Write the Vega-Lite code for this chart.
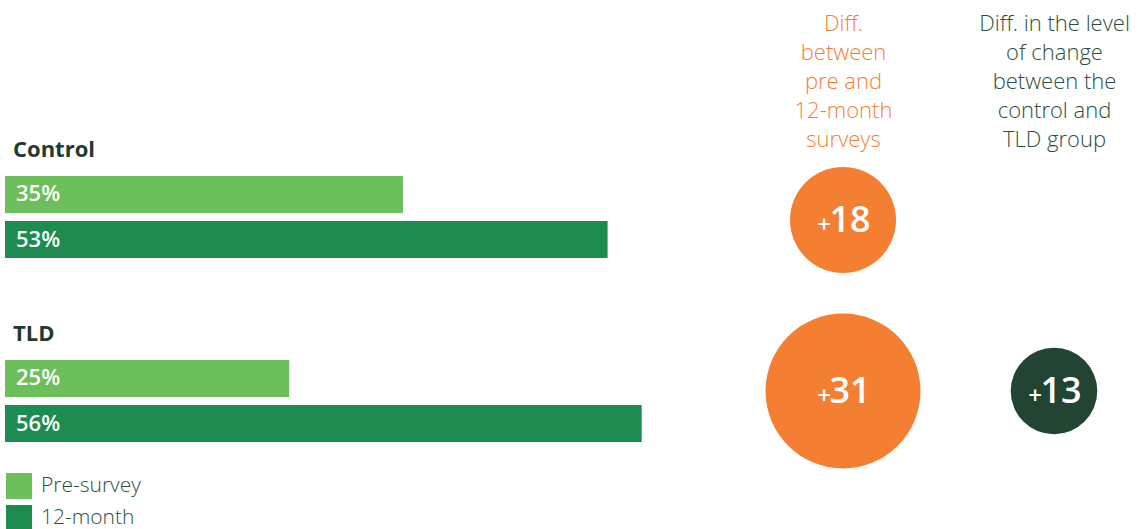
{
  "$schema": "https://vega.github.io/schema/vega-lite/v6.json",
  "width": 1139,
  "height": 529,
  "autosize": {"type": "none"},
  "padding": 0,
  "background": "#ffffff",
  "config": {"view": {"stroke": null}, "font": "Open Sans"},
  "datasets": {
    "bars": [
      {"group": "Control", "series": "Pre-survey", "share": 0.35},
      {"group": "Control", "series": "12-month", "share": 0.53},
      {"group": "TLD", "series": "Pre-survey", "share": 0.25},
      {"group": "TLD", "series": "12-month", "share": 0.56}
    ],
    "diffs": [
      {"measure": "Diff.|between|pre and|12-month|surveys", "group": "Control", "diff": 18},
      {"measure": "Diff.|between|pre and|12-month|surveys", "group": "TLD", "diff": 31},
      {"measure": "Diff. in the level|of change|between the|control and|TLD group", "group": "TLD", "diff": 13}
    ]
  },
  "resolve": {"scale": {"x": "independent", "y": "independent", "color": "independent"}},
  "layer": [
    {
      "data": {"name": "bars"},
      "layer": [
        {
          "mark": {"type": "bar"},
          "encoding": {
            "x": {"field": "share", "type": "quantitative", "scale": {"domain": [-0.0044, 0.9974], "nice": false}, "axis": null},
            "y": {"field": "group", "type": "nominal", "scale": {"domain": ["Control", "TLD"], "range": [135, 503], "paddingInner": 0, "paddingOuter": 0}, "axis": null},
            "yOffset": {"field": "series", "type": "nominal", "scale": {"domain": ["Pre-survey", "12-month"], "range": [41, 123], "paddingInner": 0.178, "paddingOuter": 0}},
            "color": {
              "field": "series", "type": "nominal",
              "scale": {"domain": ["Pre-survey", "12-month"], "range": ["#6CBF5A", "#1E8C51"]},
              "legend": {
                "title": null, "orient": "none", "legendX": 6, "legendY": 473, "padding": 0,
                "symbolType": "square", "symbolSize": 676, "symbolStrokeWidth": 0, "symbolOpacity": 1,
                "rowPadding": 6, "labelOffset": 9, "labelFont": "Open Sans", "labelFontSize": 21,
                "labelFontWeight": 300, "labelColor": "#2A4F3E", "labelLimit": 0
              }
            }
          }
        },
        {
          "mark": {"type": "text", "align": "left", "baseline": "middle", "dx": 11, "dy": 0, "color": "#ffffff", "font": "Open Sans", "fontSize": 22, "fontWeight": 600},
          "encoding": {
            "x": {"datum": 0, "type": "quantitative"},
            "y": {"field": "group", "type": "nominal"},
            "yOffset": {"field": "series", "type": "nominal"},
            "text": {"field": "share", "type": "quantitative", "format": ".0%"}
          }
        },
        {
          "transform": [{"aggregate": [{"op": "count", "as": "n"}], "groupby": ["group"]}],
          "mark": {"type": "text", "align": "left", "baseline": "middle", "dx": 8, "dy": 15, "color": "#1F3B2E", "font": "Open Sans", "fontSize": 22, "fontWeight": 700},
          "encoding": {
            "x": {"datum": 0, "type": "quantitative"},
            "y": {"field": "group", "type": "nominal", "bandPosition": 0},
            "text": {"field": "group", "type": "nominal"}
          }
        }
      ]
    },
    {
      "data": {"name": "diffs"},
      "encoding": {
        "x": {
          "field": "measure", "type": "nominal",
          "scale": {"type": "point", "domain": ["Diff.|between|pre and|12-month|surveys", "Diff. in the level|of change|between the|control and|TLD group"], "range": [843, 1054], "padding": 0},
          "axis": {
            "orient": "top", "offset": -35, "title": null, "domain": false, "ticks": false, "grid": false,
            "labelPadding": 0, "labelAngle": 0, "labelAlign": "center", "labelLimit": 0, "labelOverlap": false, "labelFlush": false,
            "labelFont": "Open Sans", "labelFontSize": 22, "labelFontWeight": 300, "labelLineHeight": 29,
            "labelExpr": "split(datum.label, '|')",
            "labelColor": {"condition": {"test": "indexof(datum.value, 'surveys') >= 0", "value": "#F47F32"}, "value": "#2A4F3E"}
          }
        },
        "y": {"field": "group", "type": "nominal", "scale": {"type": "point", "domain": ["Control", "TLD"], "range": [220, 391], "padding": 0}, "axis": null}
      },
      "layer": [
        {
          "mark": {"type": "circle", "opacity": 1, "strokeWidth": 0},
          "encoding": {
            "size": {"field": "diff", "type": "quantitative", "scale": {"domain": [13, 18, 31], "range": [7500, 11236, 24025]}, "legend": null},
            "color": {"field": "measure", "type": "nominal", "scale": {"domain": ["Diff.|between|pre and|12-month|surveys", "Diff. in the level|of change|between the|control and|TLD group"], "range": ["#F47F32", "#224533"]}, "legend": null}
          }
        },
        {
          "mark": {"type": "text", "align": "center", "baseline": "alphabetic", "dx": 7, "dy": 12, "color": "#ffffff", "font": "Open Sans", "fontSize": 36, "fontWeight": 600},
          "encoding": {"text": {"field": "diff", "type": "quantitative", "format": "d"}}
        },
        {
          "mark": {"type": "text", "text": "+", "align": "right", "baseline": "alphabetic", "dx": -12, "dy": 13, "color": "#ffffff", "font": "Open Sans", "fontSize": 24, "fontWeight": 600},
          "encoding": {}
        }
      ]
    }
  ]
}
